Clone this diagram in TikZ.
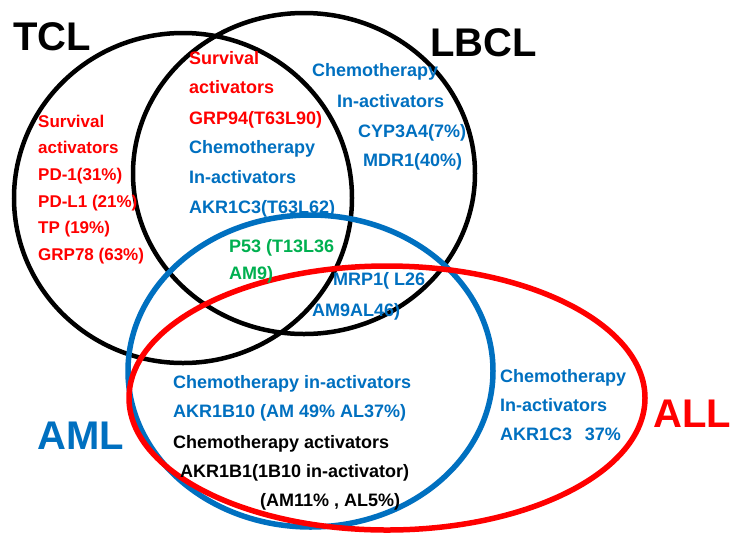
\documentclass[tikz,border=0pt]{standalone}
\usepackage{fontspec}
\setmainfont{Liberation Sans}
\usetikzlibrary{shapes.geometric}
\definecolor{cred}{RGB}{255,0,0}
\definecolor{cblue}{RGB}{0,112,192}
\definecolor{cgreen}{RGB}{0,176,80}
\tikzset{
  setshape/.style={ellipse, inner sep=0pt, draw},
  txt/.style={anchor=base west, inner sep=0pt, font=\bfseries\fontsize{18}{18}\selectfont},
  txts/.style={txt, font=\bfseries\fontsize{17}{17}\selectfont},
  big/.style={anchor=base west, inner sep=0pt, font=\bfseries\fontsize{40}{40}\selectfont},
}
\begin{document}
\begin{tikzpicture}[x=1pt,y=-1pt]
\useasboundingbox[fill=white] (0,0) rectangle (736,542);
% sets
\node[setshape, line width=4.5pt, minimum width=338pt, minimum height=330pt] (tcl) at (183,198) {};
\node[setshape, line width=4.5pt, minimum width=342pt, minimum height=321pt] (lbcl) at (304,173.5) {};
\node[setshape, draw=cblue, line width=5.5pt, minimum width=365pt, minimum height=312pt] (aml) at (310.5,371) {};
\node[setshape, draw=cred, line width=5.5pt, minimum width=516pt, minimum height=264pt] (all) at (387,398) {};
% big labels
\node[big] (ltcl) at (13,50) {TCL};
\node[big] (llbcl) at (430,56) {LBCL};
\node[big, text=cblue] (laml) at (37,449) {AML};
\node[big, text=cred] (lall) at (653,427) {ALL};
% TCL only
\node[txts, text=cred] (t1) at (38,127) {Survival};
\node[txts, text=cred] (t2) at (38,153) {activators};
\node[txts, text=cred] (t3) at (38,180) {PD-1(31\%)};
\node[txts, text=cred] (t4) at (38,207) {PD-L1 (21\%)};
\node[txts, text=cred] (t5) at (38,233) {TP (19\%)};
\node[txts, text=cred] (t6) at (38,260) {GRP78 (63\%)};
% TCL & LBCL
\node[txt, text=cred] (m1) at (189,64) {Survival};
\node[txt, text=cred] (m2) at (189,93) {activators};
\node[txt, text=cred] (m3) at (189,124) {GRP94(T63L90)};
\node[txt, text=cblue] (m4) at (189,153) {Chemotherapy};
\node[txt, text=cblue] (m5) at (189,183) {In-activators};
\node[txt, text=cblue] (m6) at (189,213) {AKR1C3(T63L62)};
% LBCL only
\node[txt, text=cblue] (b1) at (312,76) {Chemotherapy};
\node[txt, text=cblue] (b2) at (337,107) {In-activators};
\node[txt, text=cblue] (b3) at (358,137) {CYP3A4(7\%)};
\node[txt, text=cblue] (b4) at (363,166) {MDR1(40\%)};
% centre
\node[txt, text=cgreen] (g1) at (229,252) {P53 (T13L36};
\node[txt, text=cgreen] (g2) at (229,279) {AM9)};
\node[txt, text=cblue] (r1) at (333,285) {MRP1( L26};
\node[txt, text=cblue] (r2) at (312,316) {AM9AL46)};
% AML & ALL
\node[txt, text=cblue] (a1) at (173,388) {Chemotherapy in-activators};
\node[txt, text=cblue] (a2) at (173,417) {AKR1B10 (AM 49\% AL37\%)};
\node[txt] (a3) at (173,448) {Chemotherapy activators};
\node[txt] (a4) at (180,477) {AKR1B1(1B10 in-activator)};
\node[txt] (a5) at (260,506) {(AM11\% , AL5\%)};
% ALL only
\node[txt, text=cblue] (c1) at (500,382) {Chemotherapy};
\node[txt, text=cblue] (c2) at (500,411) {In-activators};
\node[txt, text=cblue] (c3) at (500,440) {AKR1C3\hspace{0.7em}37\%};
\end{tikzpicture}
\end{document}
